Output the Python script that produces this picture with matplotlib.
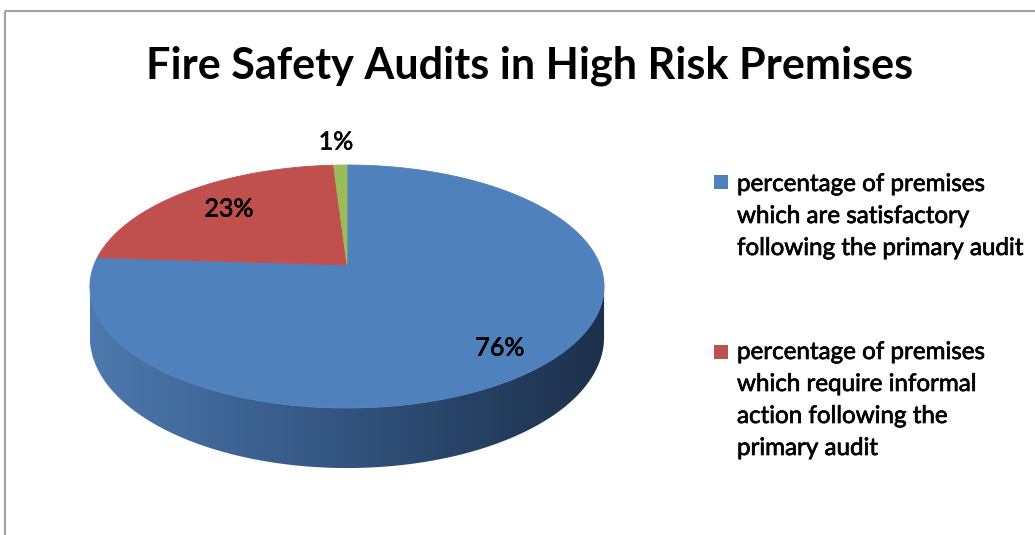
import numpy as np
import matplotlib
matplotlib.use("Agg")
import matplotlib.pyplot as plt
import matplotlib.patheffects as pe
from matplotlib.patches import Polygon, Rectangle
from matplotlib.colors import LinearSegmentedColormap

# ---------------- data ----------------
title = "Fire Safety Audits in High Risk Premises"
categories = [
    "percentage of premises\nwhich are satisfactory\nfollowing the primary audit",
    "percentage of premises\nwhich require informal\naction following the\nprimary audit",
    "percentage of premises\nrequiring formal action",
]
values = [76, 23, 1]
slice_colors = ["#4f81bd", "#c0504d", "#9bbb59"]
legend_shown = [0, 1]  # only two entries visible in the legend

# ---------------- layout ----------------
W, H = 1035, 535
fig = plt.figure(figsize=(W / 100, H / 100), dpi=100)
ax = fig.add_axes([0, 0, 1, 1])
ax.set_xlim(0, W)
ax.set_ylim(H, 0)
ax.axis("off")
FONT = ["Lato", "DejaVu Sans"]
heavy = [pe.withStroke(linewidth=0.5, foreground="black")]

# chart border (clipped by the screenshot on right/bottom)
ax.add_patch(Rectangle((5, 11), W + 20, H + 20, fill=False, ec="#a3a3a3", lw=1.6,
                       joinstyle="round", zorder=1))

# 3D pie projection parameters
CX, CY = 347.0, 265.0
A, B = 253.0, 117.7
K = 0.177
DEPTH = 49.4


def proj(theta_deg, r=1.0):
    th = np.radians(theta_deg)
    u = r * np.sin(th)
    v = -r * np.cos(th)
    w = 1 - K * v
    return CX + A * u / w, CY + B * v / w, w


total = float(sum(values))
angles = np.concatenate([[0.0], np.cumsum(values) / total * 360.0])

# side (visible front wall)
th_r = np.degrees(np.arccos(-K))
th_l = 360.0 - th_r
ths = np.linspace(th_r, th_l, 300)
xt, yt, wt = proj(ths)
yb = yt + DEPTH / wt
side_xy = np.concatenate([np.column_stack([xt, yt]), np.column_stack([xt[::-1], yb[::-1]])])
side_poly = Polygon(side_xy, closed=True, fc="none", ec="none", zorder=2)
ax.add_patch(side_poly)
cmap = LinearSegmentedColormap.from_list("side", ["#4d79ae", "#3b6090", "#2a476c", "#1d304b"])
grad = np.linspace(0, 1, 512).reshape(1, -1)
im = ax.imshow(grad, cmap=cmap, extent=[xt.min(), xt.max(), yb.max() + 2, yt.min() - 2],
               aspect="auto", zorder=2, interpolation="bilinear")
im.set_clip_path(side_poly)
ax.set_xlim(0, W)
ax.set_ylim(H, 0)

# top face slices
for i, val in enumerate(values):
    a0, a1 = angles[i], angles[i + 1]
    th = np.linspace(a0, a1, max(4, int((a1 - a0) * 2)))
    px, py, _ = proj(th)
    xy = np.vstack([[CX, CY], np.column_stack([px, py])])
    ax.add_patch(Polygon(xy, closed=True, fc=slice_colors[i], ec=slice_colors[i],
                         lw=0.6, zorder=3))

# data labels
label_pos = [(500, 348), (229, 209), (336, 142)]
for i, val in enumerate(values):
    ax.text(label_pos[i][0], label_pos[i][1], f"{val}%", ha="center", va="center",
            fontsize=18, family=FONT, color="black", zorder=5, path_effects=heavy)

fig.canvas.draw()
renderer = fig.canvas.get_renderer()


def fit(t, target_w):
    bb = t.get_window_extent(renderer)
    t.set_fontsize(t.get_fontsize() * target_w / bb.width)


# title
tt = ax.text(529.5, 78, title, ha="center", va="baseline", fontsize=30, fontweight="bold",
             family=FONT, color="black", zorder=5)
fit(tt, 765)

# legend
key_y = [182, 352]
base_y = [[191, 223, 255], [359, 391, 423, 455]]
probe = ax.text(737, 0, "following the primary audit", fontsize=16, family=FONT, alpha=0)
fit(probe, 288)
lsize = probe.get_fontsize()
for j, idx in enumerate(legend_shown):
    ax.add_patch(Rectangle((714, key_y[j] - 7), 14, 14, fc=slice_colors[idx], ec="none", zorder=5))
    for line, by in zip(categories[idx].split("\n"), base_y[j]):
        ax.text(737, by, line, ha="left", va="baseline", fontsize=lsize, family=FONT,
                color="black", zorder=5, path_effects=heavy)

fig.savefig("out.png", dpi=100)
